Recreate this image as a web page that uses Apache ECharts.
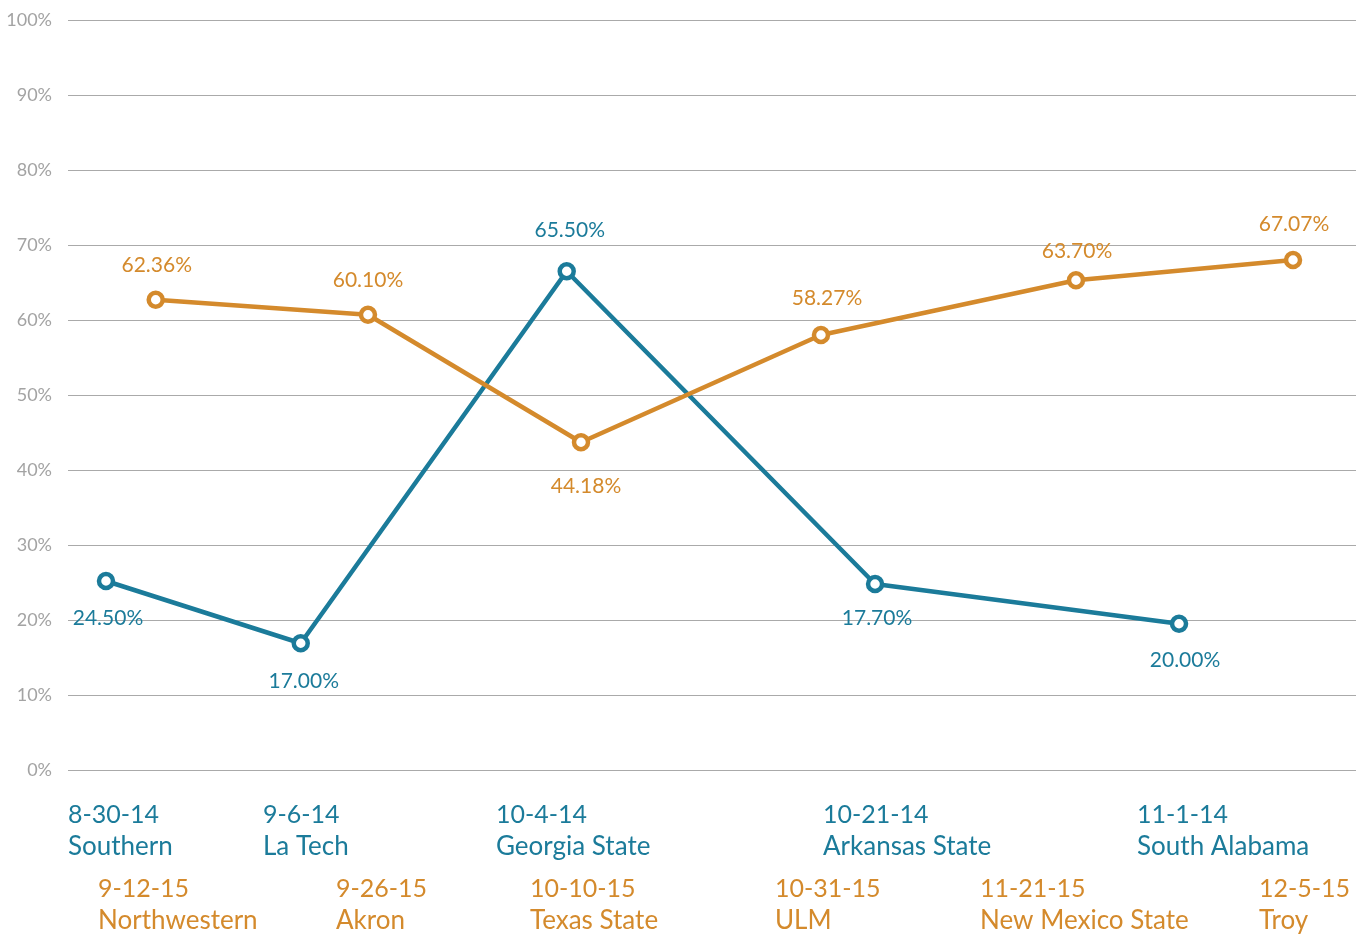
<!DOCTYPE html>
<html>
<head>
<meta charset="utf-8">
<script src="https://cdn.jsdelivr.net/npm/echarts@6/dist/echarts.min.js"></script>
<style>
html,body{margin:0;padding:0;background:#fff;}
#chart{width:1363px;height:935px;}
</style>
</head>
<body>
<div id="chart"></div>
<script>
// 2014 series (blue)
const blueDates = ['8-30-14', '9-6-14', '10-4-14', '10-21-14', '11-1-14'];
const blueOpponents = ['Southern', 'La Tech', 'Georgia State', 'Arkansas State', 'South Alabama'];
const blueValues = [25.2, 16.9, 66.5, 24.8, 19.5];
const blueLabels = ['24.50%', '17.00%', '65.50%', '17.70%', '20.00%'];
const blueX = [2.95, 18.07, 38.72, 62.66, 86.26];
const blueLabelX = [0, 15.14, 33.23, 58.62, 83.0];
const bluePos = ['bottom', 'bottom', 'top', 'bottom', 'bottom'];
const blueDist = [17, 18, 21, 14, 17];
const blueDx = [2, 3, 3, 2, 6];

// 2015 series (orange)
const orangeDates = ['9-12-15', '9-26-15', '10-10-15', '10-31-15', '11-21-15', '12-5-15'];
const orangeOpponents = ['Northwestern', 'Akron', 'Texas State', 'ULM', 'New Mexico State', 'Troy'];
const orangeValues = [62.7, 60.7, 43.7, 58.0, 65.3, 68.0];
const orangeLabels = ['62.36%', '60.10%', '44.18%', '58.27%', '63.70%', '67.07%'];
const orangeX = [6.81, 23.29, 39.83, 58.46, 78.26, 95.11];
const orangeLabelX = [2.33, 20.81, 35.87, 54.89, 70.81, 92.47];
const orangePos = ['top', 'top', 'bottom', 'top', 'top', 'top'];
const orangeDist = [15, 15, 24, 17, 9, 16];
const orangeDx = [1, 0, 5, 6, 1, 1];

// y-axis ticks
const yMin = 0, yMax = 100, yStep = 10;

const BLUE = '#1b7b9a';
const ORANGE = '#d48a2c';
const FONT = 'Lato';

function xAxisFor(labelX, dates, names, color, offset) {
  return {
    type: 'value', min: 0, max: 100, position: 'bottom', offset: offset,
    axisLine: {show: false}, axisTick: {show: false}, splitLine: {show: false},
    axisLabel: {
      customValues: labelX,
      formatter: function (v) {
        let i = labelX.indexOf(v);
        if (i < 0) {
          let best = 0, bd = Infinity;
          labelX.forEach((x, k) => { if (Math.abs(x - v) < bd) { bd = Math.abs(x - v); best = k; } });
          i = best;
        }
        return '{d|' + dates[i] + '}\n{n|' + names[i] + '}';
      },
      rich: {
        d: {color: color, fontSize: 25, fontFamily: FONT, lineHeight: 32, align: 'left'},
        n: {color: color, fontSize: 26, fontFamily: FONT, lineHeight: 32, align: 'left'}
      },
      align: 'left', color: color, fontSize: 25, lineHeight: 32, margin: 29,
      fontFamily: FONT, showMinLabel: true, showMaxLabel: true
    }
  };
}

function seriesFor(name, xs, vals, labels, pos, dist, dx, color, xIdx) {
  return {
    name: name, type: 'line', xAxisIndex: xIdx,
    data: xs.map((x, i) => ({
      value: [x, vals[i]],
      label: {position: pos[i], distance: dist[i], offset: [dx[i], 0]}
    })),
    symbol: 'circle', symbolSize: 14,
    itemStyle: {color: '#fff', borderColor: color, borderWidth: 4.5},
    lineStyle: {color: color, width: 4.5},
    label: {
      show: true, color: color, fontSize: 21, fontFamily: FONT,
      formatter: p => labels[p.dataIndex]
    },
    z: 3
  };
}

const chart = echarts.init(document.getElementById('chart'), null, {renderer: 'canvas'});
chart.setOption({
  animation: false,
  backgroundColor: '#fff',
  grid: {left: 68, right: 7, top: 20, bottom: 165, containLabel: false, outerBoundsMode: 'none'},
  xAxis: [
    xAxisFor(blueLabelX, blueDates, blueOpponents, BLUE, 0),
    xAxisFor(orangeLabelX, orangeDates, orangeOpponents, ORANGE, 74)
  ],
  yAxis: {
    type: 'value', min: yMin, max: yMax, interval: yStep,
    axisLine: {show: false}, axisTick: {show: false},
    axisLabel: {formatter: '{value}%', color: '#a3a3a3', fontSize: 18, fontFamily: FONT, margin: 16},
    splitLine: {lineStyle: {color: '#aaaaaa', width: 1}}
  },
  series: [
    seriesFor('2014', blueX, blueValues, blueLabels, bluePos, blueDist, blueDx, BLUE, 0),
    seriesFor('2015', orangeX, orangeValues, orangeLabels, orangePos, orangeDist, orangeDx, ORANGE, 1)
  ]
});
</script>
</body>
</html>
